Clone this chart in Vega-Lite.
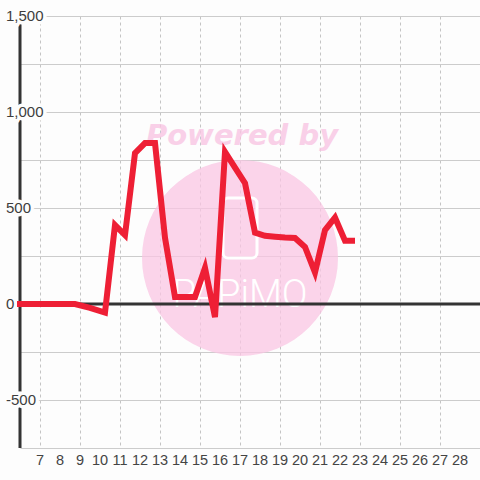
{
  "$schema": "https://vega.github.io/schema/vega-lite/v6.json",
  "width": 460,
  "height": 432,
  "autosize": {"type": "none"},
  "padding": {"left": 20, "top": 16, "right": 0, "bottom": 32},
  "background": "#fdfdfd",
  "config": {"view": {"stroke": null}},
  "datasets": {
    "series": [
      {"x": 5.85, "y": 0},
      {"x": 8.75, "y": 0},
      {"x": 9.5, "y": -20},
      {"x": 10.25, "y": -45},
      {"x": 10.75, "y": 411},
      {"x": 11.25, "y": 359},
      {"x": 11.75, "y": 786},
      {"x": 12.25, "y": 838},
      {"x": 12.75, "y": 838},
      {"x": 13.25, "y": 345},
      {"x": 13.75, "y": 36},
      {"x": 14.25, "y": 36},
      {"x": 14.75, "y": 36},
      {"x": 15.25, "y": 188},
      {"x": 15.75, "y": -68},
      {"x": 16.25, "y": 792},
      {"x": 16.75, "y": 710},
      {"x": 17.25, "y": 630},
      {"x": 17.75, "y": 372},
      {"x": 18.25, "y": 355},
      {"x": 18.75, "y": 350},
      {"x": 19.25, "y": 346},
      {"x": 19.75, "y": 344},
      {"x": 20.25, "y": 297},
      {"x": 20.75, "y": 164},
      {"x": 21.25, "y": 385},
      {"x": 21.75, "y": 450},
      {"x": 22.25, "y": 330},
      {"x": 22.75, "y": 330}
    ],
    "ylabels": [
      {"v": 1500, "t": "1,500"},
      {"v": 1000, "t": "1,000"},
      {"v": 500, "t": "500"},
      {"v": 0, "t": "0"},
      {"v": -500, "t": "-500"}
    ],
    "xlabels": [
      {"v": 7}, {"v": 8}, {"v": 9}, {"v": 10}, {"v": 11}, {"v": 12}, {"v": 13}, {"v": 14},
      {"v": 15}, {"v": 16}, {"v": 17}, {"v": 18}, {"v": 19}, {"v": 20}, {"v": 21}, {"v": 22},
      {"v": 23}, {"v": 24}, {"v": 25}, {"v": 26}, {"v": 27}, {"v": 28}
    ],
    "badge": [{"x": 17, "y": 240}]
  },
  "layer": [
    {
      "data": {"name": "badge"},
      "mark": {"type": "point", "shape": "circle", "filled": true, "size": 38400, "color": "#f9c6e3", "opacity": 0.75, "strokeWidth": 0},
      "encoding": {
        "x": {
          "field": "x", "type": "quantitative",
          "scale": {"domain": [6, 29], "nice": false, "zero": false},
          "axis": {
            "values": [7, 8, 9, 10, 11, 12, 13, 14, 15, 16, 17, 18, 19, 20, 21, 22, 23, 24, 25, 26, 27, 28],
            "title": null, "domain": false, "ticks": false, "labels": false,
            "grid": true, "gridDash": [3, 3], "gridColor": "#c4c4c4", "gridWidth": 1
          }
        },
        "y": {
          "field": "y", "type": "quantitative",
          "scale": {"domain": [-750, 1500], "nice": false, "zero": false},
          "axis": {
            "values": [-750, -500, -250, 0, 250, 500, 750, 1000, 1250, 1500],
            "title": null, "domain": false, "ticks": false, "labels": false,
            "grid": true, "gridColor": "#cccccc", "gridWidth": 1
          }
        }
      }
    },
    {
      "data": {"name": "badge"},
      "mark": {"type": "rect", "filled": false, "stroke": "#ffffff", "strokeWidth": 3, "cornerRadius": 5},
      "encoding": {
        "x": {"datum": 16.15, "type": "quantitative"},
        "x2": {"datum": 17.85},
        "y": {"datum": 552, "type": "quantitative"},
        "y2": {"datum": 240}
      }
    },
    {
      "data": {"name": "badge"},
      "mark": {"type": "text", "text": "PAPiMO", "font": "Roboto", "fontWeight": 300, "fontSize": 38, "color": "#ffffff", "align": "center", "baseline": "alphabetic"},
      "encoding": {
        "x": {"datum": 17, "type": "quantitative"},
        "y": {"datum": -15, "type": "quantitative"}
      }
    },
    {
      "data": {"name": "badge"},
      "mark": {"type": "text", "text": "Powered by", "font": "DejaVu Sans", "fontWeight": "bold", "fontStyle": "italic", "fontSize": 29, "color": "#f9c6e3", "opacity": 0.8, "align": "center", "baseline": "alphabetic"},
      "encoding": {
        "x": {"datum": 17.1, "type": "quantitative"},
        "y": {"datum": 828, "type": "quantitative"}
      }
    },
    {
      "data": {"name": "xlabels"},
      "mark": {"type": "text", "font": "Liberation Sans", "fontSize": 14.5, "align": "center", "baseline": "middle", "fill": "#444444"},
      "encoding": {
        "x": {"field": "v", "type": "quantitative"},
        "y": {"datum": -818, "type": "quantitative"},
        "text": {"field": "v", "type": "quantitative", "format": "d"}
      }
    },
    {
      "data": {"name": "badge"},
      "mark": {"type": "rule", "color": "#333333", "strokeWidth": 3},
      "encoding": {
        "x": {"datum": 6, "type": "quantitative"},
        "y": {"datum": -750, "type": "quantitative"},
        "y2": {"datum": 1500}
      }
    },
    {
      "data": {"name": "ylabels"},
      "mark": {"type": "text", "font": "Liberation Sans", "fontSize": 15, "align": "left", "baseline": "middle", "fill": "#fdfdfd", "stroke": "#fdfdfd", "strokeWidth": 7},
      "encoding": {
        "x": {"datum": 5.3, "type": "quantitative"},
        "y": {"field": "v", "type": "quantitative"},
        "text": {"field": "t"}
      }
    },
    {
      "data": {"name": "ylabels"},
      "mark": {"type": "text", "font": "Liberation Sans", "fontSize": 15, "align": "left", "baseline": "middle", "fill": "#3d3d3d"},
      "encoding": {
        "x": {"datum": 5.3, "type": "quantitative"},
        "y": {"field": "v", "type": "quantitative"},
        "text": {"field": "t"}
      }
    },
    {
      "data": {"name": "badge"},
      "mark": {"type": "rule", "color": "#333333", "strokeWidth": 3},
      "encoding": {
        "x": {"datum": 6, "type": "quantitative"},
        "x2": {"datum": 29},
        "y": {"datum": 0, "type": "quantitative"}
      }
    },
    {
      "data": {"name": "series"},
      "mark": {"type": "line", "color": "#ee1f35", "strokeWidth": 6, "strokeJoin": "miter", "strokeCap": "butt"},
      "encoding": {
        "x": {"field": "x", "type": "quantitative"},
        "y": {"field": "y", "type": "quantitative"}
      }
    }
  ]
}
